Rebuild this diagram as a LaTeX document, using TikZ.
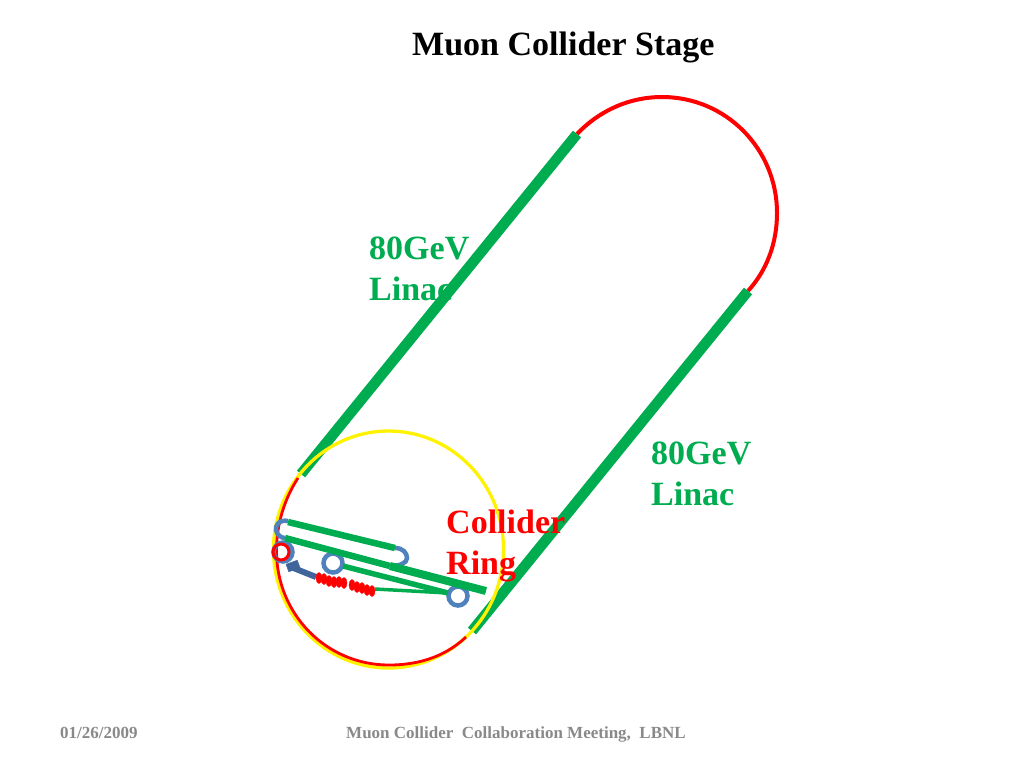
\documentclass[tikz,border=0pt]{standalone}
\usepackage{fontspec}
\setmainfont{Liberation Serif}
\usepackage{xcolor}
\usetikzlibrary{positioning}
\definecolor{linacgreen}{HTML}{00AC50}
\definecolor{ringred}{HTML}{FF0000}
\definecolor{arcblue}{HTML}{4F81BD}
\definecolor{barblue}{HTML}{3F659B}
\definecolor{footgray}{HTML}{898989}
\begin{document}
\begin{tikzpicture}[
                x=1pt, y=-1pt,
                title/.style={font=\bfseries\fontsize{34}{38}\selectfont, inner sep=0pt, anchor=base west},
                label/.style={font=\bfseries\fontsize{34}{41}\selectfont, inner sep=0pt, anchor=north west, align=left},
                footer/.style={font=\bfseries\fontsize{17}{19}\selectfont, text=footgray, inner sep=0pt, anchor=base west},
                linac/.style={draw=linacgreen, line width=10.5pt},
                transfer/.style={draw=linacgreen, line width=6.5pt},
                arcring/.style={draw=arcblue, line width=4.5pt},
            ]
                \useasboundingbox (0,0) rectangle (1024,768);

                % Titles
                \node[title] (heading) at (412,56) {Muon Collider Stage};
                \node[footer] (date) at (60,738) {01/26/2009};
                \node[footer] (meeting) at (346,738) {Muon Collider\ \ Collaboration Meeting,\ \ LBNL};

                % Label that sits under the linac
                \node[label, text=linacgreen] (linacone) at (369,237) {80GeV\\Linac};
                \node[label, text=linacgreen] (linactwo) at (651,442) {80GeV\\Linac};

                % Arc ends
                \coordinate (arcstart) at (577,134);
                \coordinate (arcend) at (748,291);
                \coordinate (ringstart) at (301,474);
                \coordinate (ringend) at (472,631);

                % Red arcs
                \draw[ringred, line width=4pt] (arcstart) .. controls (600,110) and (630,97) .. (662,97)
                    .. controls (726,97) and (777,149) .. (777,213)
                    .. controls (777,243) and (767,270) .. (arcend);

                % Linacs
                \draw[linac] (ringstart) -- (arcstart);
                \draw[linac] (ringend) -- (arcend);

                % Yellow circle
                \draw[yellow, line width=3.3pt] (388.5,549.5) ellipse [x radius=115, y radius=118.5];
                \draw[ringred, line width=2.8pt] (ringstart) ++(-3,4) .. controls (285,498) and (276.5,523) .. (276.5,551)
                    .. controls (276.5,614) and (326,665) .. (389,665)
                    .. controls (423,665) and (448,654) .. (466,637);

                % Ring label goes over the lower linac
                \node[label, text=ringred] (ringlabel) at (446,510) {Collider\\Ring};

                % Blue turn arounds and rings
                \draw[arcring] (288,521) .. controls (278,519) and (275,527) .. (276,530) .. controls (277,535) and (281,538) .. (285,538);
                \draw[arcring] (395,548) .. controls (403,548) and (407,553) .. (407,558) .. controls (407,563) and (400,566) .. (390,566);
                \draw[arcring] (333,563) circle (9.5);
                \draw[arcring] (458,596) circle (9.5);
                \draw[arcring] (283,552) circle (9.5);

                % Recirculation passes
                \draw[transfer] (288,522) -- (395,548);
                \draw[transfer] (285,538) -- (390,566);
                \draw[linacgreen, line width=8pt] (390,566) -- (486,591);
                \draw[linacgreen, line width=5.5pt] (343,566) -- (448,593);
                \draw[linacgreen, line width=3.5pt] (375,589) -- (448,593);

                % Source and cooling channel
                \draw[ringred, line width=3pt] (281,552) circle (8);
                \draw[barblue, line width=6pt] (291,567) -- (316,577);
                \draw[barblue, fill=barblue, rotate around={20:(293,566)}] (287,562) rectangle (299,570);
                \foreach \px/\py in {319/578,324/579,329/581,334/582,339/582,344/583,352/585,357/587,362/588,367/590,372/591}
                    \draw[ringred, fill=ringred] (\px,\py) ellipse [x radius=3, y radius=5.5];
            \end{tikzpicture}
\end{document}
